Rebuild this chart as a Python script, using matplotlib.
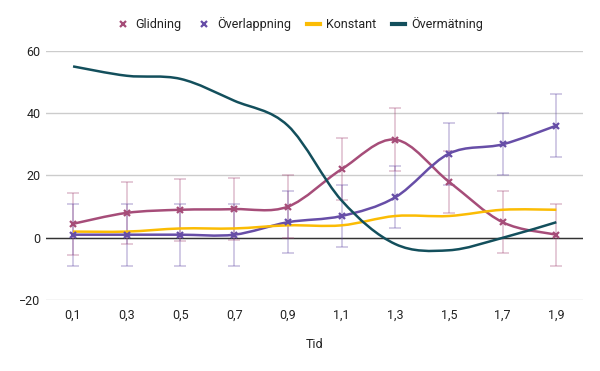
import numpy as np
import matplotlib
matplotlib.use('Agg')
import matplotlib.pyplot as plt
from matplotlib.path import Path
from matplotlib.patches import PathPatch
from matplotlib.lines import Line2D

plt.rcParams['font.family'] = ['Roboto', 'DejaVu Sans']

# data
tid = ['0,1', '0,3', '0,5', '0,7', '0,9', '1,1', '1,3', '1,5', '1,7', '1,9']
glidning = [4.5, 8, 9, 9.2, 10, 22, 31.5, 18, 5, 1]
overlappning = [1, 1, 1, 1, 5, 7, 13, 27, 30, 36]
konstant = [2, 2, 3, 3, 4, 4, 7, 7, 9, 9]
overmatning = [55, 52, 51, 44, 36, 12, -2, -4, 0, 5]
fel = 10  # felstaplar +/-

colors = {
    'Glidning': '#a64d79',
    'Överlappning': '#674ea7',
    'Konstant': '#fbbc04',
    'Övermätning': '#134f5c',
}


def smooth_path(xs, ys):
    # Catmull-Rom-liknande bezierkurva genom punkterna
    pts = np.column_stack([xs, ys]).astype(float)
    n = len(pts)
    verts = [pts[0]]
    codes = [Path.MOVETO]
    for i in range(n - 1):
        p0 = pts[i - 1] if i > 0 else pts[i]
        p1 = pts[i]
        p2 = pts[i + 1]
        p3 = pts[i + 2] if i + 2 < n else pts[i + 1]
        c1 = p1 + (p2 - p0) / 6
        c2 = p2 - (p3 - p1) / 6
        verts += [c1, c2, p2]
        codes += [Path.CURVE4] * 3
    return Path(verts, codes)


fig, ax = plt.subplots(figsize=(6, 3.71), dpi=100)
fig.subplots_adjust(left=0.077, right=0.972, bottom=0.191, top=0.863)

x = np.arange(len(tid))

ax.axhline(0, color='#333333', lw=1, zorder=1)

series = [('Glidning', glidning, True), ('Överlappning', overlappning, True),
          ('Konstant', konstant, False), ('Övermätning', overmatning, False)]

for name, vals, errs in series:
    c = colors[name]
    ax.add_patch(PathPatch(smooth_path(x, vals), fill=False, edgecolor=c, lw=1.8, zorder=3))
    if errs:
        ax.errorbar(x, vals, yerr=fel, fmt='none', ecolor=c, alpha=0.35,
                    elinewidth=1.2, capsize=4, capthick=1.2, zorder=2)
        ax.plot(x, vals, ls='none', marker='x', ms=5, mew=1.6, color=c, zorder=4)

ax.set_xlim(-0.5, len(tid) - 0.5)
ax.set_ylim(-20, 60)
ax.set_yticks([-20, 0, 20, 40, 60])
ax.set_yticklabels(['\u221220', '0', '20', '40', '60'])
ax.set_xticks(x)
ax.set_xticklabels(tid)
ax.grid(axis='y', color='#cccccc', lw=1)
ax.set_axisbelow(True)
for s in ax.spines.values():
    s.set_visible(False)
ax.tick_params(length=0, labelsize=9, colors='#222222')
ax.tick_params(axis='x', pad=6)
ax.tick_params(axis='y', pad=4)
ax.set_xlabel('Tid', fontsize=9, color='#222222', labelpad=12)

handles = [
    Line2D([], [], ls='none', marker='x', ms=5, mew=1.6, color=colors['Glidning']),
    Line2D([], [], ls='none', marker='x', ms=5, mew=1.6, color=colors['Överlappning']),
    Line2D([], [], lw=3, color=colors['Konstant']),
    Line2D([], [], lw=3, color=colors['Övermätning']),
]
fig.legend(handles, list(colors.keys()), loc='center', bbox_to_anchor=(0.5, 0.935),
           ncol=4, frameon=False, fontsize=9, handlelength=1.0, handletextpad=0.5,
           columnspacing=1.3, labelcolor='#222222')

fig.savefig('out.png', dpi=100)
